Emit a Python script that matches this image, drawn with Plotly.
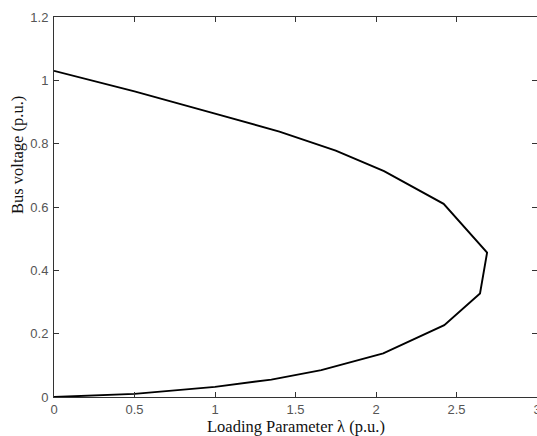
import plotly.graph_objects as go

# PV (nose) curve: loading parameter vs bus voltage, upper branch then lower branch
lam = [0.0, 0.5, 1.0, 1.4, 1.75, 2.05, 2.42, 2.69, 2.646, 2.424, 2.045, 1.66, 1.35, 1.0, 0.5, 0.0]
volt = [1.03, 0.965, 0.895, 0.838, 0.778, 0.713, 0.61, 0.456, 0.327, 0.227, 0.138, 0.085, 0.055, 0.032, 0.01, 0.0]

x_ticks = [0, 0.5, 1, 1.5, 2, 2.5, 3]
y_ticks = [0, 0.2, 0.4, 0.6, 0.8, 1, 1.2]

fig = go.Figure()
fig.add_trace(go.Scatter(x=lam, y=volt, mode="lines",
                         line=dict(color="black", width=1.9), showlegend=False))

axis_common = dict(showline=True, linecolor="#333", linewidth=1, mirror="allticks",
                   ticks="inside", ticklen=5, tickcolor="#333", showgrid=False,
                   zeroline=False, ticklabeloverflow="allow", automargin=False,
                   tickfont=dict(family="Liberation Sans, Arial", size=13, color="#555"))

fig.update_xaxes(range=[0, 3], tickvals=x_ticks, ticktext=[str(v) for v in x_ticks],
                 **axis_common)
fig.update_yaxes(range=[0, 1.2], tickvals=y_ticks, ticktext=[str(v) for v in y_ticks],
                 ticklabelstandoff=2, **axis_common)

fig.update_layout(
    width=537, height=436,
    margin=dict(l=54, r=0, t=17, b=39),
    plot_bgcolor="white", paper_bgcolor="white",
    annotations=[
        dict(text="Loading Parameter λ (p.u.)", xref="paper", yref="paper",
             x=0.5, y=0, yshift=-29, xanchor="center", yanchor="middle", showarrow=False,
             font=dict(family="Liberation Serif, Times New Roman", size=16.5, color="#111")),
        dict(text="Bus voltage (p.u.)", xref="paper", yref="paper",
             x=0, y=0.637, xshift=-36, xanchor="center", yanchor="middle", showarrow=False,
             textangle=-90,
             font=dict(family="Liberation Serif, Times New Roman", size=16.5, color="#111")),
    ],
)

fig.write_html("out.html")
